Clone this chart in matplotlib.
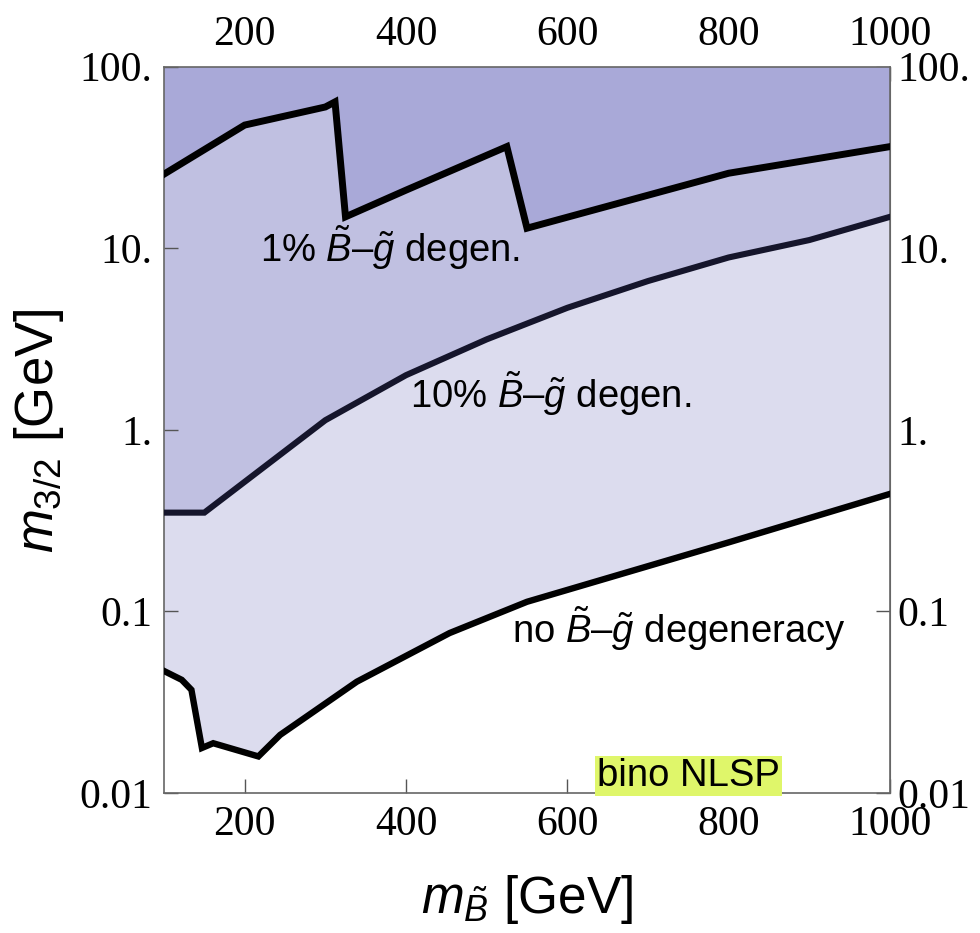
import matplotlib
matplotlib.use('Agg')
import matplotlib.pyplot as plt

plt.rcParams['font.family'] = ['Liberation Sans', 'DejaVu Sans']
plt.rcParams['mathtext.fontset'] = 'custom'
plt.rcParams['mathtext.rm'] = 'Liberation Sans'
plt.rcParams['mathtext.it'] = 'Liberation Sans:italic'
plt.rcParams['mathtext.bf'] = 'Liberation Sans:bold'

# 1% degeneracy boundary
x1 = [100, 200, 300, 312, 325, 400, 525, 550, 700, 800, 1000]
y1 = [25.6, 47.7, 60.0, 64.0, 14.9, 20.9, 36.3, 12.9, 19.6, 25.9, 36.3]

# 10% degeneracy boundary
x2 = [100, 150, 300, 400, 500, 600, 700, 800, 900, 1000]
y2 = [0.35, 0.35, 1.13, 2.0, 3.15, 4.7, 6.6, 8.9, 11.1, 14.9]

# no degeneracy boundary
x3 = [100, 122, 134, 147, 161, 217, 244, 339, 454, 550, 800, 1000]
y3 = [0.047, 0.042, 0.037, 0.0177, 0.0188, 0.0159, 0.0209, 0.041, 0.076, 0.113, 0.24, 0.444]

xticks = [200, 400, 600, 800, 1000]
yticks = [0.01, 0.1, 1, 10, 100]
ytick_labels = ['0.01', '0.1', '1.', '10.', '100.']

c_top = '#a9a9d8'
c_mid = '#c0c0e1'
c_low = '#dcdcee'

fig = plt.figure(figsize=(9.8, 9.33), dpi=100)
ax = fig.add_axes([164/980, 140/933, 726/980, 726.3/933])
ax.set_yscale('log')
ax.set_xlim(100, 1000)
ax.set_ylim(0.01, 100)

# shaded regions
ax.fill(x1 + [1000, 100], y1 + [100, 100], color=c_top, lw=0)
ax.fill(x1 + x2[::-1], y1 + y2[::-1], color=c_mid, lw=0)
ax.fill(x2 + x3[::-1], y2 + y3[::-1], color=c_low, lw=0)

ax.plot(x1, y1, color='black', lw=5, solid_joinstyle='miter', zorder=3)
ax.plot(x2, y2, color='#15152b', lw=4.4, solid_joinstyle='miter', zorder=3)
ax.plot(x3, y3, color='black', lw=4.6, solid_joinstyle='miter', zorder=3)

ax.text(219, 8.4, r'1% $\tilde{B}$–$\tilde{g}$ degen.', fontsize=27.5, va='baseline')
ax.text(405, 1.32, r'10% $\tilde{B}$–$\tilde{g}$ degen.', fontsize=27.5, va='baseline')
ax.text(531, 0.0671, r'no $\tilde{B}$–$\tilde{g}$ degeneracy', fontsize=27.5, va='baseline')
ax.text(637, 0.0109, 'bino NLSP', fontsize=27.5, va='baseline',
        bbox=dict(boxstyle='square,pad=0.05', fc='#dff66a', ec='none'))

tick_font = dict(fontfamily='Liberation Serif', fontsize=30)
spine_c = '#666666'
for s in ax.spines.values():
    s.set_color(spine_c)
    s.set_linewidth(1.2)

ax.set_xticks(xticks)
ax.set_xticklabels([str(t) for t in xticks], **tick_font)
ax.set_yticks(yticks)
ax.set_yticklabels(ytick_labels, **tick_font)
ax.minorticks_off()
ax.tick_params(direction='in', length=10, width=1, color='#555555')
ax.tick_params(axis='x', pad=8.8)
ax.tick_params(axis='y', pad=8.5)

top = ax.secondary_xaxis('top')
top.set_xticks(xticks)
top.set_xticklabels([str(t) for t in xticks], **tick_font)
top.tick_params(direction='in', length=10, width=1, color='#555555', pad=9)
top.spines['top'].set_color(spine_c)

right = ax.secondary_yaxis('right')
right.set_yticks(yticks)
right.set_yticklabels(ytick_labels, **tick_font)
right.minorticks_off()
right.tick_params(direction='in', length=10, width=1, color='#555555', pad=5)
right.spines['right'].set_color(spine_c)

fig.text(39/980, 1 - 431/933, r'$m_{3/2}$ [GeV]', fontsize=38, rotation=90,
         ha='center', va='center')
fig.text(527/980, 1 - 899/933, r'$m_{\tilde{B}}$ [GeV]', fontsize=37,
         ha='center', va='center')

fig.savefig('out.png', dpi=100)
